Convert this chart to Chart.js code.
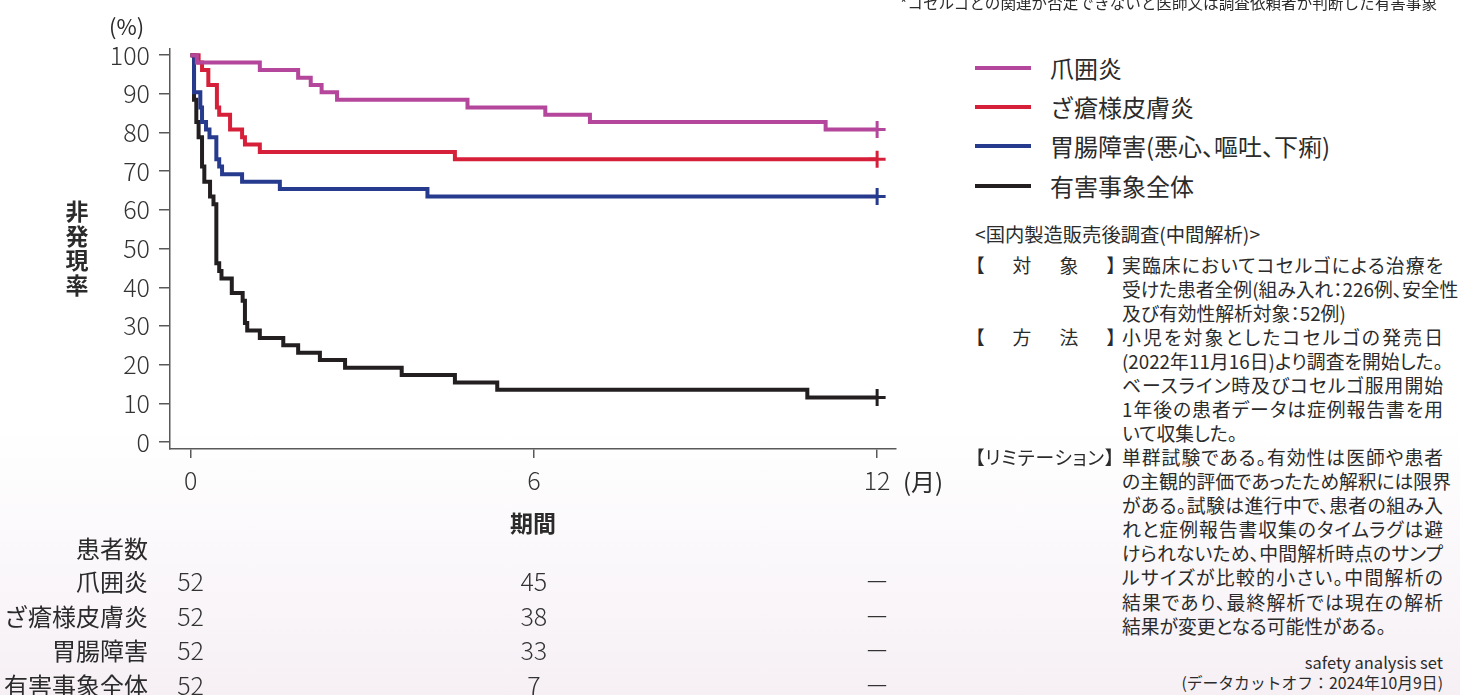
<!DOCTYPE html>
<html lang="ja">
<head>
<meta charset="utf-8">
<script src="https://cdn.jsdelivr.net/npm/chart.js@4.4.1/dist/chart.umd.min.js"></script>
<style>
  html, body { margin: 0; padding: 0; }
  body {
    width: 1460px; height: 695px; overflow: hidden; position: relative;
    background: linear-gradient(to bottom, #ffffff 0px, #ffffff 430px, #f6f0f5 695px);
    font-family: "Noto Sans CJK JP", "Noto Sans", sans-serif;
    color: #2b2b2b;
  }
  #wrap { position: absolute; left: 0; top: 0; width: 960px; height: 695px; }
  .abs { position: absolute; white-space: nowrap; }
  .palt { font-feature-settings: "palt"; }
  .ytitle { left: 64px; top: 198px; width: 26px; font-size: 23px; font-weight: 700; line-height: 24.5px; text-align: center; white-space: normal; }
  .risk-label { right: 1312px; font-size: 24px; line-height: 30px; text-align: right; }
  .legend-line { position: absolute; left: 975px; width: 56px; height: 4px; }
  .legend-text { left: 1050px; font-size: 24px; line-height: 30px; }
  .tag { position: absolute; left: 975px; width: 141px; display: flex; justify-content: space-between; white-space: nowrap; font-size: 18.8px; line-height: 24px; font-feature-settings: "palt"; }
  .tag.wide span { letter-spacing: 0.8px; }
  .body-col { position: absolute; left: 1122px; width: 321px; font-size: 18.8px; line-height: 24.1px; font-feature-settings: "palt"; }
  .body-col div { text-align: justify; text-align-last: justify; white-space: nowrap; }
  .body-col div.last { text-align-last: left; }
</style>
</head>
<body>
<div id="wrap"><canvas id="kmChart" width="960" height="695"></canvas></div>

<!-- 軸まわりの文字 -->
<div class="abs" style="left:109px; top:11px; font-size:22px; line-height:28px;">(%)</div>
<div class="abs ytitle">非<br>発<br>現<br>率</div>
<div class="abs" style="left:903px; top:466px; font-size:24px; line-height:30px;">(月)</div>
<div class="abs" style="left:510px; top:507px; font-size:23px; font-weight:700; line-height:30px;">期間</div>

<!-- 患者数の行ラベル -->
<div class="abs risk-label" style="top:533px;">患者数</div>
<div class="abs risk-label" style="top:566px;">爪囲炎</div>
<div class="abs risk-label" style="top:601px;">ざ瘡様皮膚炎</div>
<div class="abs risk-label" style="top:635px;">胃腸障害</div>
<div class="abs risk-label" style="top:670px;">有害事象全体</div>

<!-- 右側 -->
<div class="abs" style="left:900px; top:-8px; font-size:15.6px; line-height:20px;">*コセルゴとの関連が否定できないと医師又は調査依頼者が判断した有害事象</div>

<div class="legend-line" style="top:66px; background:#b4479b;"></div>
<div class="abs legend-text" style="top:53px;">爪囲炎</div>
<div class="legend-line" style="top:105px; background:#d6203a;"></div>
<div class="abs legend-text" style="top:92px;">ざ瘡様皮膚炎</div>
<div class="legend-line" style="top:144px; background:#263a8e;"></div>
<div class="abs legend-text palt" style="top:131px;">胃腸障害(悪心、嘔吐、下痢)</div>
<div class="legend-line" style="top:184px; background:#231f20;"></div>
<div class="abs legend-text" style="top:171px;">有害事象全体</div>

<div class="abs" style="left:975px; top:221px; font-size:19.3px; line-height:26px;">&lt;国内製造販売後調査(中間解析)&gt;</div>

<div class="tag" style="top:253px;"><span>【</span><span>対</span><span>象</span><span>】</span></div>
<div class="body-col" style="top:253px;">
  <div>実臨床においてコセルゴによる治療を</div>
  <div>受けた患者全例(組み入れ：226例、安全性</div>
  <div class="last">及び有効性解析対象：52例)</div>
</div>

<div class="tag" style="top:325px;"><span>【</span><span>方</span><span>法</span><span>】</span></div>
<div class="body-col" style="top:325px;">
  <div>小児を対象としたコセルゴの発売日</div>
  <div>(2022年11月16日)より調査を開始した。</div>
  <div>ベースライン時及びコセルゴ服用開始</div>
  <div>1年後の患者データは症例報告書を用</div>
  <div class="last">いて収集した。</div>
</div>

<div class="tag wide" style="top:445px;"><span>【リミテーション】</span></div>
<div class="body-col" style="top:445px;">
  <div>単群試験である。有効性は医師や患者</div>
  <div>の主観的評価であったため解釈には限界</div>
  <div>がある。試験は進行中で、患者の組み入</div>
  <div>れと症例報告書収集のタイムラグは避</div>
  <div>けられないため、中間解析時点のサンプ</div>
  <div>ルサイズが比較的小さい。中間解析の</div>
  <div>結果であり、最終解析では現在の解析</div>
  <div class="last">結果が変更となる可能性がある。</div>
</div>

<div class="abs" style="right:17px; top:651px; font-size:16.5px; line-height:22px; text-align:right;">safety analysis set</div>
<div class="abs" style="right:17px; top:672px; font-size:15.8px; line-height:22px; text-align:right;">(データカットオフ：2024年10月9日)</div>

<script>
// ── データ（月, 非発現率%）────────────────────────────────
const nailTimes  = [0, 0.11, 1.21, 1.88, 2.10, 2.29, 2.56, 4.84, 6.20, 6.98, 11.10, 12];
const nailRate   = [100, 98.1, 96.2, 94.2, 92.3, 90.4, 88.5, 86.5, 84.6, 82.7, 80.8, 80.8];

const acneTimes  = [0, 0.14, 0.20, 0.31, 0.46, 0.50, 0.69, 0.90, 0.95, 1.21, 4.62, 12];
const acneRate   = [100, 98.1, 96.2, 92.3, 86.5, 84.6, 80.8, 78.8, 76.9, 75.0, 73.1, 73.1];

const giTimes    = [0, 0.06, 0.17, 0.20, 0.27, 0.33, 0.45, 0.50, 0.55, 0.90, 1.56, 4.14, 12];
const giRate     = [100, 90.4, 86.5, 82.7, 80.8, 78.8, 73.1, 71.2, 69.2, 67.3, 65.4, 63.5, 63.5];

const allTimes   = [0, 0.06, 0.10, 0.14, 0.20, 0.24, 0.34, 0.40, 0.45, 0.50, 0.54, 0.72, 0.91, 0.95, 0.99, 1.21, 1.62, 1.88, 2.26, 2.70, 3.69, 4.62, 5.36, 10.78, 12];
const allRate    = [100, 88.5, 82.7, 78.8, 71.2, 67.3, 63.5, 61.5, 46.2, 44.2, 42.3, 38.5, 36.5, 30.8, 28.8, 26.9, 25.0, 23.1, 21.2, 19.2, 17.3, 15.4, 13.5, 11.5, 11.5];

const seriesNames  = ['爪囲炎', 'ざ瘡様皮膚炎', '胃腸障害(悪心、嘔吐、下痢)', '有害事象全体'];
const seriesColors = ['#b4479b', '#d6203a', '#263a8e', '#231f20'];

const xTicks = [0, 6, 12];
const yTicks = [0, 10, 20, 30, 40, 50, 60, 70, 80, 90, 100];

// 患者数（at risk）
const riskTimes = [0, 6, 12];
const riskNail  = ['52', '45', '－'];
const riskAcne  = ['52', '38', '－'];
const riskGi    = ['52', '33', '－'];
const riskAll   = ['52', '7',  '－'];

// ── 組み立て ──────────────────────────────────────────────
const axisColor = '#5a5858';
const numFont   = { family: '"Noto Sans CJK JP", "Noto Sans", sans-serif', size: 25, weight: '300' };

function toPoints(t, v) { return t.map((x, i) => ({ x: x, y: v[i] })); }

const allSeries = [
    toPoints(nailTimes, nailRate),
    toPoints(acneTimes, acneRate),
    toPoints(giTimes, giRate),
    toPoints(allTimes, allRate)
];

const datasets = allSeries.map((pts, i) => ({
    label: seriesNames[i],
    data: pts,
    stepped: true,
    borderColor: seriesColors[i],
    borderWidth: 4,
    borderCapStyle: 'butt',
    borderJoinStyle: 'miter',
    fill: false,
    pointStyle: 'cross',
    pointBorderColor: seriesColors[i],
    pointBorderWidth: 3,
    pointRadius: ctx => ctx.dataIndex === pts.length - 1 ? 8.5 : 0,
    pointHoverRadius: 0
}));

// 患者数の数字を x 軸の位置に合わせて描く
const atRiskPlugin = {
    id: 'atRisk',
    afterDraw(chart) {
        const { ctx, scales: { x } } = chart;
        const rows = [riskNail, riskAcne, riskGi, riskAll];
        const rowY = [581, 616, 650, 685];
        ctx.save();
        ctx.font = '300 25px "Noto Sans CJK JP", "Noto Sans", sans-serif';
        ctx.fillStyle = '#333';
        ctx.textAlign = 'center';
        ctx.textBaseline = 'middle';
        rows.forEach((row, r) => {
            row.forEach((txt, i) => ctx.fillText(txt, x.getPixelForValue(riskTimes[i]), rowY[r]));
        });
        ctx.restore();
    }
};

new Chart(document.getElementById('kmChart'), {
    type: 'line',
    data: { datasets },
    plugins: [atRiskPlugin],
    options: {
        responsive: false,
        animation: false,
        events: [],
        layout: { padding: { top: 49, right: 64, bottom: 195, left: 0 } },
        plugins: {
            legend: { display: false },
            tooltip: { enabled: false }
        },
        scales: {
            x: {
                type: 'linear',
                min: -0.36,
                max: 12.33,
                afterBuildTicks: s => { s.ticks = xTicks.map(v => ({ value: v })); },
                afterFit: s => { s.height = 51; },
                grid: { drawOnChartArea: false, drawTicks: true, tickLength: 9, color: axisColor, lineWidth: 1.5 },
                border: { display: true, color: axisColor, width: 1.5 },
                ticks: { font: numFont, color: '#333', padding: 7, maxRotation: 0, autoSkip: false }
            },
            y: {
                min: -1.8,
                max: 101.6,
                afterBuildTicks: s => { s.ticks = yTicks.map(v => ({ value: v })); },
                afterFit: s => { s.width = 170; },
                grid: { drawOnChartArea: false, drawTicks: true, tickLength: 11, color: axisColor, lineWidth: 1.5 },
                border: { display: true, color: axisColor, width: 1.5 },
                ticks: { font: numFont, color: '#333', padding: 9, autoSkip: false }
            }
        }
    }
});
</script>
</body>
</html>
